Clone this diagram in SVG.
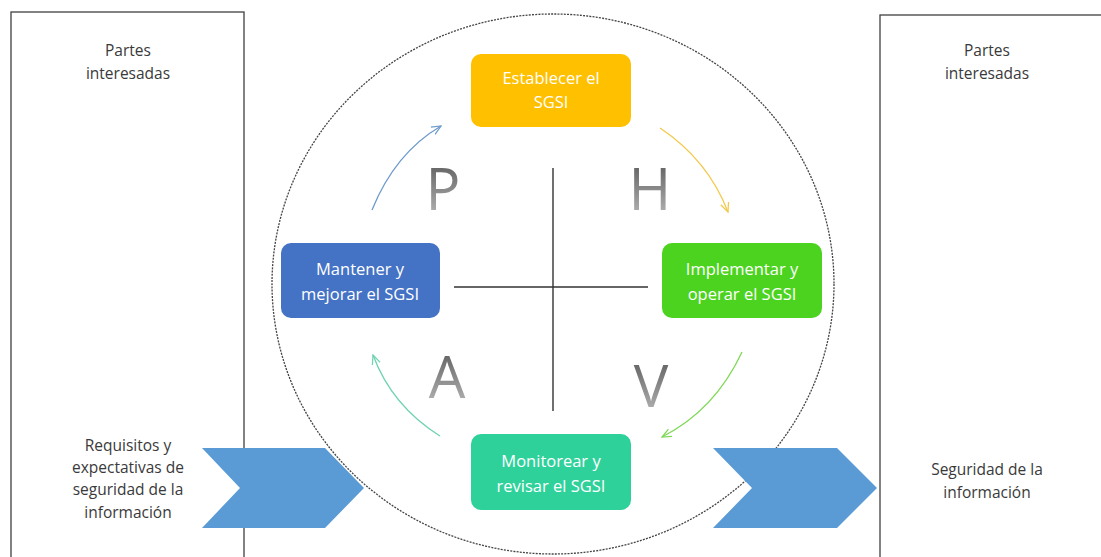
<svg xmlns="http://www.w3.org/2000/svg" width="1101" height="557" viewBox="0 0 1101 557">
<defs>
<style>
.box{fill:#fff;stroke:#404040;stroke-width:1.3}
.lbl{font-family:"Open Sans","Liberation Sans",sans-serif;font-size:15.5px;fill:#3a3a3a;text-anchor:middle}
.ntxt{font-family:"Open Sans","Liberation Sans",sans-serif;font-size:16.5px;fill:#fff;text-anchor:middle}
.big{font-family:"Open Sans","Liberation Sans",sans-serif;font-size:58px;font-weight:400;fill:url(#gray);text-anchor:middle}
.cross{stroke:#333;stroke-width:1.4}
.chev{fill:#5B9BD5}
.arc{fill:none;stroke-width:1.3}
</style>
<linearGradient id="gray" x1="0" y1="0" x2="0" y2="1">
<stop offset="0" stop-color="#4a4a4a"/>
<stop offset="1" stop-color="#c4c4c4"/>
</linearGradient>
<marker id="mb" viewBox="0 0 10 10" refX="9" refY="5" markerWidth="8" markerHeight="8" orient="auto"><path d="M0,1 L9,5 L0,9" fill="none" stroke="#6D9ACB" stroke-width="1.2"/></marker>
<marker id="my" viewBox="0 0 10 10" refX="9" refY="5" markerWidth="8" markerHeight="8" orient="auto"><path d="M0,1 L9,5 L0,9" fill="none" stroke="#F2C94C" stroke-width="1.2"/></marker>
<marker id="mg" viewBox="0 0 10 10" refX="9" refY="5" markerWidth="8" markerHeight="8" orient="auto"><path d="M0,1 L9,5 L0,9" fill="none" stroke="#7FD857" stroke-width="1.2"/></marker>
<marker id="mt" viewBox="0 0 10 10" refX="9" refY="5" markerWidth="8" markerHeight="8" orient="auto"><path d="M0,1 L9,5 L0,9" fill="none" stroke="#6ED3AE" stroke-width="1.2"/></marker>
</defs>
<rect width="1101" height="557" fill="#fff"/>
<g id="left-box">
<rect class="box" x="11" y="12" width="233" height="560"/>
<text class="lbl" x="128" y="56">Partes</text>
<text class="lbl" x="128" y="79">interesadas</text>
<text class="lbl" x="128" y="451">Requisitos y</text>
<text class="lbl" x="128" y="473">expectativas de</text>
<text class="lbl" x="128" y="495">seguridad de la</text>
<text class="lbl" x="128" y="518">información</text>
</g>
<g id="right-box">
<rect class="box" x="880" y="15" width="240" height="560"/>
<text class="lbl" x="987" y="56">Partes</text>
<text class="lbl" x="987" y="79">interesadas</text>
<text class="lbl" x="987" y="475">Seguridad de la</text>
<text class="lbl" x="987" y="498">información</text>
</g>
<g id="cycle-circle">
<ellipse cx="553" cy="284" rx="281" ry="270" fill="none" stroke="#444" stroke-width="1.3" stroke-dasharray="2,1.2"/>
</g>
<g id="input-chevron"><polygon class="chev" points="202,448 325,448 364,488 325,528 202,528 240,488"/></g>
<g id="output-chevron"><polygon class="chev" points="713,448 837,448 877,488 837,528 713,528 752,488"/></g>
<g id="axes">
<line class="cross" x1="553" y1="168" x2="553" y2="411"/>
<line class="cross" x1="454" y1="287" x2="648" y2="287"/>
</g>
<g id="letters">
<text class="big" x="443" y="210">P</text>
<text class="big" x="650" y="210">H</text>
<text class="big" x="447" y="398">A</text>
<text class="big" x="651" y="407">V</text>
</g>
<g id="connectors">
<path class="arc" d="M372,210 Q395,153 441,126" stroke="#6D9ACB" marker-end="url(#mb)"/>
<path class="arc" d="M660,128 Q708,160 728,212" stroke="#F2C94C" marker-end="url(#my)"/>
<path class="arc" d="M742,352 Q715,410 662,437" stroke="#7FD857" marker-end="url(#mg)"/>
<path class="arc" d="M440,436 Q392,406 373,355" stroke="#6ED3AE" marker-end="url(#mt)"/>
</g>
<g id="node-establecer">
<rect x="471" y="54" width="160" height="73" rx="10" fill="#FFC000"/>
<text class="ntxt" x="551" y="84">Establecer el</text>
<text class="ntxt" x="551" y="108">SGSI</text>
</g>
<g id="node-implementar">
<rect x="662" y="243" width="160" height="75" rx="10" fill="#4CD31F"/>
<text class="ntxt" x="742" y="275">Implementar y</text>
<text class="ntxt" x="742" y="300">operar el SGSI</text>
</g>
<g id="node-mantener">
<rect x="281" y="243" width="159" height="75" rx="10" fill="#4472C4"/>
<text class="ntxt" x="360" y="275">Mantener y</text>
<text class="ntxt" x="360" y="300">mejorar el SGSI</text>
</g>
<g id="node-monitorear">
<rect x="471" y="434" width="160" height="76" rx="10" fill="#2FD19B"/>
<text class="ntxt" x="551" y="467">Monitorear y</text>
<text class="ntxt" x="551" y="492">revisar el SGSI</text>
</g>
</svg>
